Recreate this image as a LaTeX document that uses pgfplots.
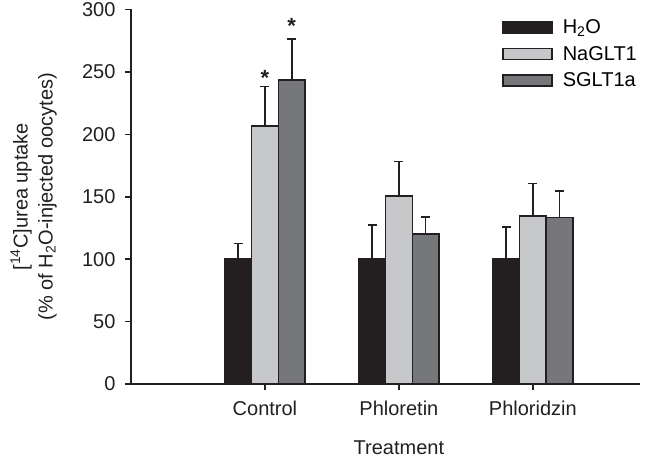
\documentclass[border=0pt]{standalone}
\usepackage{pgfplots}
\pgfplotsset{compat=1.18}
\usepackage{fontspec}
\setmainfont{Liberation Sans}
\definecolor{cblack}{HTML}{231F20}
\definecolor{clight}{HTML}{C7C8CA}
\definecolor{cdark}{HTML}{76777A}
\newcommand\bigf{\fontsize{20bp}{25bp}\selectfont}
\begin{document}
\begin{tikzpicture}
\begin{axis}[
  scale only axis,
  width=509bp, height=374.5bp,
  xmin=0, xmax=3.8, ymin=0, ymax=300,
  ybar=0pt, bar width=0.2,
  axis lines*=left,
  axis line style={line width=1.6bp, color=cblack},
  ytick={0,50,...,300},
  xtick={1,2,3},
  xticklabels={Control,Phloretin,Phloridzin},
  tick style={line width=1.6bp, color=cblack},
  major tick length=6bp,
  tick align=outside,
  /pgf/number format/assume math mode=true,
  every tick label/.append style={font=\bigf, text=cblack},
  yticklabel style={xshift=-6bp},
  xticklabel style={yshift=-7bp},
  label style={font=\bigf, text=cblack},
  xlabel={Treatment},
  xlabel style={at={(axis cs:2,0)}, anchor=center, yshift=-64bp},
  ylabel={[\textsuperscript{14}C]urea uptake\\(\% of H\textsubscript{2}O-injected oocytes)},
  ylabel style={at={(axis description cs:-0.139,0.5)}, anchor=south, align=center},
  legend style={at={(axis description cs:0.729,0.978)}, anchor=north west, draw=none, fill=none,
    font=\bigf, row sep=7bp, inner sep=0pt},
  legend cell align=left,
  legend image code/.code={\draw[#1, line width=1.5bp] (0bp,-5.5bp) rectangle (49bp,5.5bp); \path (57bp,0bp);},
  error bars/y dir=plus,
  error bars/y explicit,
  error bars/error bar style={line width=1.6bp, color=cblack},
  error bars/error mark options={rotate=90, mark size=4.5bp, line width=1.6bp, color=cblack},
]
\addplot[fill=cblack, draw=cblack, line width=1.5bp]
  coordinates {(1,100) +- (0,12.7) (2,100) +- (0,27.2) (3,100) +- (0,26)};
\addlegendentry{H\textsubscript{2}O}
\addplot[fill=clight, draw=cblack, line width=1.5bp]
  coordinates {(1,206.7) +- (0,31.5) (2,150.6) +- (0,27.5) (3,134.6) +- (0,25.9)};
\addlegendentry{NaGLT1}
\addplot[fill=cdark, draw=cblack, line width=1.5bp]
  coordinates {(1,243.6) +- (0,32.8) (2,120) +- (0,13.8) (3,133.3) +- (0,21.3)};
\addlegendentry{SGLT1a}
\node[font=\fontsize{22bp}{22bp}\selectfont\bfseries, text=cblack] at (axis cs:1,245) {*};
\node[font=\fontsize{22bp}{22bp}\selectfont\bfseries, text=cblack] at (axis cs:1.2,287) {*};
\end{axis}
\pgfresetboundingbox
\path ([shift={(-131bp,-78bp)}]current axis.south west) rectangle ([shift={(27bp,9.5bp)}]current axis.north east);
\end{tikzpicture}
\end{document}
